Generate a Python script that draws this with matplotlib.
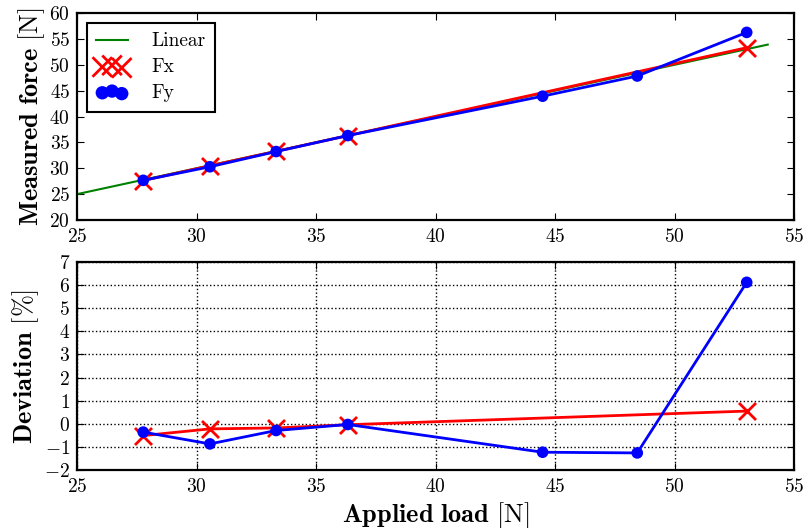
import numpy as np
import matplotlib
matplotlib.use('Agg')
import matplotlib.pyplot as plt

# applied load vs measured force
load_y = [27.77, 30.56, 33.33, 36.33, 44.48, 48.44, 53.02]
fy = [27.67, 30.29, 33.23, 36.32, 43.93, 47.83, 56.26]
dev_y = [-0.36, -0.87, -0.29, -0.03, -1.23, -1.26, 6.12]

load_x = [27.77, 30.56, 33.33, 36.33, 53.02]
fx = [27.63, 30.49, 33.28, 36.31, 53.30]
dev_x = [-0.51, -0.22, -0.18, -0.04, 0.55]

lin_x = [25.0, 53.9]
lin_y = [25.0, 53.9]

xticks = [25, 30, 35, 40, 45, 50, 55]
yticks_top = [20, 25, 30, 35, 40, 45, 50, 55, 60]
yticks_bot = [-2, -1, 0, 1, 2, 3, 4, 5, 6, 7]

plt.rcParams['font.family'] = 'serif'
plt.rcParams['font.serif'] = ['cmr10']
plt.rcParams['mathtext.fontset'] = 'cm'
plt.rcParams['axes.formatter.use_mathtext'] = True
plt.rcParams['font.size'] = 14
plt.rcParams['axes.linewidth'] = 1.6
plt.rcParams['xtick.direction'] = 'in'
plt.rcParams['ytick.direction'] = 'in'
plt.rcParams['xtick.top'] = True
plt.rcParams['ytick.right'] = True
plt.rcParams['xtick.major.size'] = 5
plt.rcParams['ytick.major.size'] = 5
plt.rcParams['xtick.major.pad'] = 6
plt.rcParams['ytick.major.pad'] = 5

fig = plt.figure(figsize=(8.04, 5.28), dpi=100)
ax1 = fig.add_axes([0.0958, 0.5833, 0.8918, 0.392])
ax2 = fig.add_axes([0.0958, 0.1098, 0.8918, 0.394])

ax1.plot(lin_x, lin_y, color='green', lw=1.5, label='Linear')
ax1.plot(load_x, fx, color='red', lw=2, zorder=3)
ax1.scatter(load_x, fx, marker='x', s=150, color='red', linewidths=2, label='Fx', zorder=4)
ax1.plot(load_y, fy, color='blue', lw=2, zorder=5)
ax1.scatter(load_y, fy, marker='o', s=70, color='blue', edgecolors='none', label='Fy', zorder=6)
ax1.set_xlim(25, 55)
ax1.set_ylim(20, 60)
ax1.set_xticks(xticks)
ax1.set_yticks(yticks_top)
ax1.set_ylabel(r'$\mathbf{Measured\ force}\ [\mathrm{N}]$', fontsize=19, labelpad=2)
leg = ax1.legend(loc='upper left', scatterpoints=3, fancybox=False, framealpha=1,
                 edgecolor='black', handlelength=1.6, borderpad=0.5, labelspacing=0.4,
                 handletextpad=1.2, fontsize=14, markerscale=1.15)
leg.get_frame().set_linewidth(1.5)

ax2.plot(load_x, dev_x, color='red', lw=2, zorder=3)
ax2.scatter(load_x, dev_x, marker='x', s=150, color='red', linewidths=2, zorder=4)
ax2.plot(load_y, dev_y, color='blue', lw=2, zorder=5)
ax2.scatter(load_y, dev_y, marker='o', s=70, color='blue', edgecolors='none', zorder=6)
ax2.set_xlim(25, 55)
ax2.set_ylim(-2, 7)
ax2.set_xticks(xticks)
ax2.set_yticks(yticks_bot)
ax2.grid(True, color='black', linestyle=':', linewidth=1)
ax2.set_axisbelow(True)
ax2.set_ylabel(r'$\mathbf{Deviation}\ [\%]$', fontsize=19, labelpad=2)
ax2.set_xlabel(r'$\mathbf{Applied\ load}\ [\mathrm{N}]$', fontsize=19, labelpad=3)

fig.savefig('out.png', dpi=100)
